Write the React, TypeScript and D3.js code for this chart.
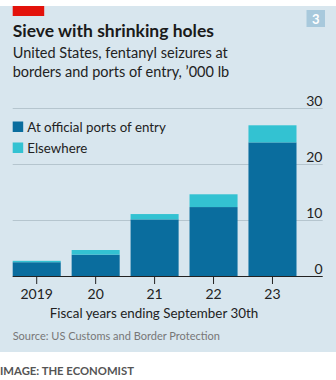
import React from "react";
import * as d3 from "d3";

const years = ["2019", "20", "21", "22", "23"];
const ports = [2.55, 3.9, 10.2, 12.4, 23.95];
const elsewhere = [0.25, 0.83, 0.95, 2.28, 3.05];
const yTicks = [0, 10, 20, 30];

const W = 336;
const H = 380;
const FONT = "Lato, 'Noto Sans', sans-serif";
const DARK = "#0a6d9e";
const CYAN = "#33c2d2";

export default function App() {
  const x = d3.scaleBand<string>().domain(years).range([12.7, 296.5]).paddingInner(0.185).paddingOuter(0);
  const y = d3.scaleLinear().domain([0, 30]).range([276.5, 108.5]);
  const stack = d3.stack<any>().keys(["ports", "elsewhere"])(
    years.map((yr, i) => ({ yr, ports: ports[i], elsewhere: elsewhere[i] }))
  );
  const colors = [DARK, CYAN];
  return (
    <svg width={W} height={H} style={{ position: "absolute", left: 0, top: 0, display: "block" }} fontFamily={FONT}>
      <rect x={0} y={0} width={W} height={H} fill="#ffffff" />
      <rect x={0} y={6} width={W} height={346} fill="#d8e6ee" />
      <rect x={12.7} y={6} width={31.5} height={10} fill="#e3120b" />
      <rect x={306.5} y={10} width={18.5} height={17} fill="#a8c9dc" />
      <text x={315.7} y={23.5} textAnchor="middle" fontSize={13} fontWeight={700} fill="#ffffff">3</text>
      <text x={12.7} y={36.7} fontSize={17.5} fontWeight={700} fill="#1a1a1a">Sieve with shrinking holes</text>
      <text x={12.7} y={58} fontSize={14.5} fill="#222">United States, fentanyl seizures at</text>
      <text x={12.7} y={77} fontSize={14.5} fill="#222">borders and ports of entry, ’000 lb</text>
      {yTicks.filter((t) => t > 0).map((t) => (
        <line key={t} x1={12.7} x2={322.7} y1={y(t)} y2={y(t)} stroke="#b5c5ce" strokeWidth={1} />
      ))}
      {yTicks.map((t) => (
        <text key={t} x={322.5} y={y(t) - 3} textAnchor="end" fontSize={14} fill="#222">{t}</text>
      ))}
      {stack.map((s, si) =>
        s.map((d, i) => (
          <rect key={si + "-" + i} x={x(years[i])} width={x.bandwidth()} y={y(d[1])} height={y(d[0]) - y(d[1])} fill={colors[si]} />
        ))
      )}
      <line x1={12.7} x2={322.7} y1={y(0)} y2={y(0)} stroke="#222" strokeWidth={1.2} />
      {years.map((yr) => (
        <g key={yr}>
          <line x1={x(yr)! + x.bandwidth() / 2} x2={x(yr)! + x.bandwidth() / 2} y1={y(0)} y2={284} stroke="#222" strokeWidth={1} />
          <text x={x(yr)! + x.bandwidth() / 2} y={298.5} textAnchor="middle" fontSize={14} fill="#222">{yr}</text>
        </g>
      ))}
      <rect x={12.7} y={121.5} width={10.5} height={10.5} fill={DARK} />
      <text x={27.3} y={131.8} fontSize={13.3} fill="#222">At official ports of entry</text>
      <rect x={12.7} y={142.5} width={10.5} height={10.5} fill={CYAN} />
      <text x={27.3} y={152.8} fontSize={13.3} fill="#222">Elsewhere</text>
      <text x={154} y={318} textAnchor="middle" fontSize={13.4} fill="#222">Fiscal years ending September 30th</text>
      <text x={12.7} y={339.5} fontSize={11} fill="#777">Source: US Customs and Border Protection</text>
      <text x={0} y={375} fontSize={11.3} fontWeight={700} fill="#555">IMAGE: THE ECONOMIST</text>
    </svg>
  );
}
